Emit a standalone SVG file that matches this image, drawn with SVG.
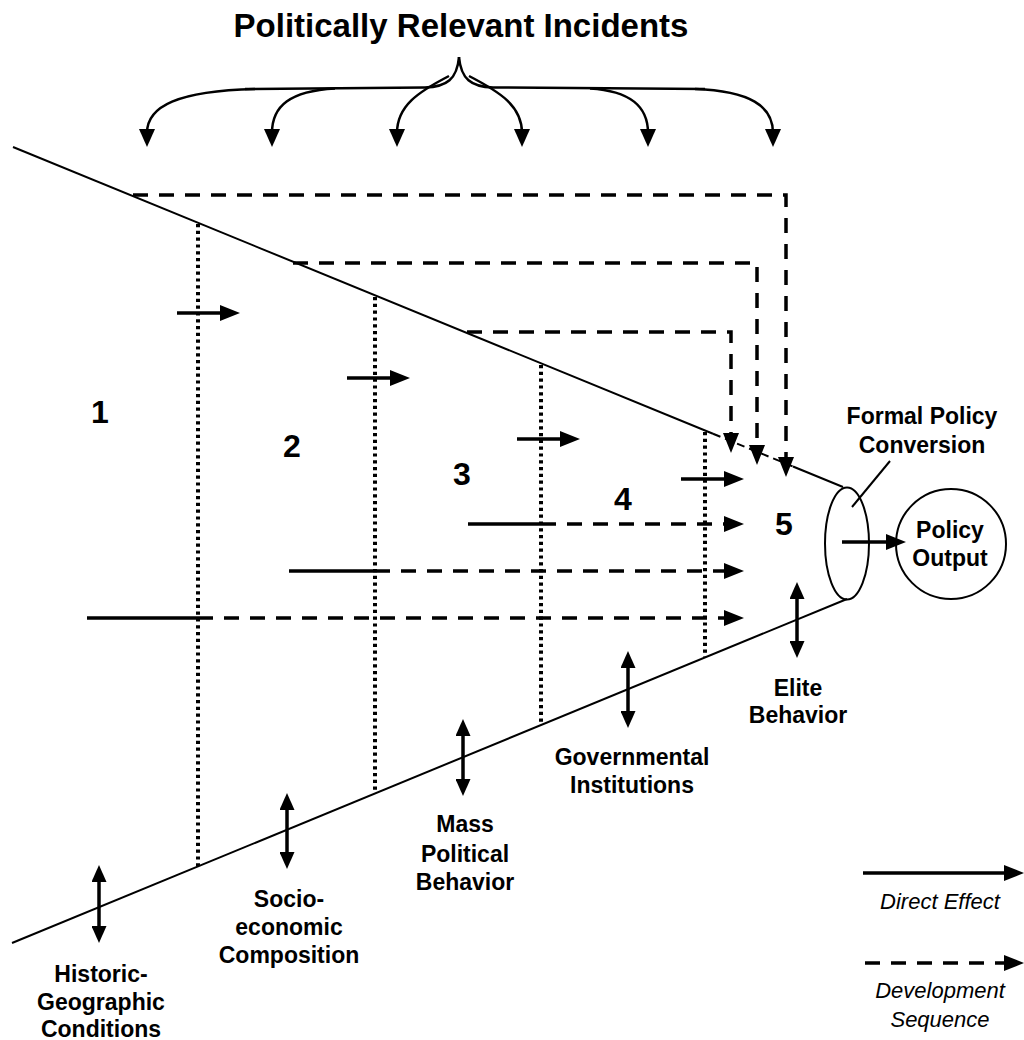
<svg xmlns="http://www.w3.org/2000/svg" width="1024" height="1040" viewBox="0 0 1024 1040">
<style>
text{font-family:"Liberation Sans",Arial,sans-serif;fill:#000;text-anchor:middle}
.t{font-weight:bold;font-size:23px}
.title{font-weight:bold;font-size:33px}
.num{font-weight:bold;font-size:32px}
.leg{font-style:italic;font-size:22px}
.fn{fill:none;stroke:#000;stroke-width:2}
.de{fill:none;stroke:#000;stroke-width:3.5;marker-end:url(#ah)}
.sl{fill:none;stroke:#000;stroke-width:3.5}
.ds{fill:none;stroke:#000;stroke-width:3.5;stroke-dasharray:15 11;marker-end:url(#ah)}
.dt{fill:none;stroke:#000;stroke-width:4;stroke-dasharray:3.2 3.6}
.br{fill:none;stroke:#000;stroke-width:2.5}
.bra{fill:none;stroke:#000;stroke-width:2.5;marker-end:url(#ahb)}
.dbl{fill:none;stroke:#000;stroke-width:3.5;marker-start:url(#ad);marker-end:url(#ad)}
</style>
<defs>
<marker id="ah" markerUnits="userSpaceOnUse" viewBox="0 0 20 16" markerWidth="20" markerHeight="16" refX="6" refY="8" orient="auto"><path d="M0,0 L20,8 L0,16 z" fill="#000"/></marker>
<marker id="ahb" markerUnits="userSpaceOnUse" viewBox="0 0 18 16" markerWidth="18" markerHeight="16" refX="4" refY="8" orient="auto"><path d="M0,0 L18,8 L0,16 z" fill="#000"/></marker>
<marker id="ad" markerUnits="userSpaceOnUse" viewBox="0 0 17 15" markerWidth="17" markerHeight="15" refX="4" refY="7.5" orient="auto-start-reverse"><path d="M0,0 L17,7.5 L0,15 z" fill="#000"/></marker>
</defs>
<rect width="1024" height="1040" fill="#fff"/>

<g id="title"><text class="title" x="461" y="37">Politically Relevant Incidents</text></g>

<g id="funnel">
<path class="fn" d="M13,147 L713,433.7"/>
<path class="fn" d="M713,433.7 L793,466.5" stroke-width="2.5" stroke-dasharray="8 5"/>
<path class="fn" d="M793,466.5 L843,487"/>
<path class="fn" d="M12,943 L847,599"/>
</g>

<g id="conversion">
<ellipse cx="847" cy="543.5" rx="22" ry="56" fill="none" stroke="#000" stroke-width="2"/>
<text class="t" x="922" y="424">Formal Policy</text>
<text class="t" x="922" y="453">Conversion</text>
</g>

<g id="output">
<circle cx="951" cy="544" r="55" fill="none" stroke="#000" stroke-width="2"/>
<text class="t" x="950" y="538">Policy</text>
<text class="t" x="950" y="566">Output</text>
</g>

<g id="stages">
<text class="num" x="100" y="423">1</text>
<text class="num" x="292" y="457">2</text>
<text class="num" x="462" y="485">3</text>
<text class="num" x="623" y="510">4</text>
<text class="num" x="784" y="535">5</text>
</g>

<g id="historic"><text class="t" x="101" y="982">Historic-</text><text class="t" x="101" y="1010">Geographic</text><text class="t" x="101" y="1037">Conditions</text></g>
<g id="socio"><text class="t" x="289" y="907">Socio-</text><text class="t" x="289" y="935">economic</text><text class="t" x="289" y="963">Composition</text></g>
<g id="mass"><text class="t" x="465" y="832">Mass</text><text class="t" x="465" y="862">Political</text><text class="t" x="465" y="890">Behavior</text></g>
<g id="gov"><text class="t" x="632" y="765">Governmental</text><text class="t" x="632" y="793">Institutions</text></g>
<g id="elite"><text class="t" x="798" y="696">Elite</text><text class="t" x="798" y="723">Behavior</text></g>

<g id="legend">
<path class="de" d="M863,873 H1010"/>
<text class="leg" x="940" y="909">Direct Effect</text>
<path class="ds" d="M865,963 H1010"/>
<text class="leg" x="940" y="998">Development</text>
<text class="leg" x="940" y="1027">Sequence</text>
</g>

<g id="connectors">
<!-- braces -->
<path class="br" d="M459,57 C457,79 447,87 425,87.5 L245,89"/>
<path class="bra" d="M255,89 C178,91 147,106 147,133"/>
<path class="bra" d="M335,88.5 C290,91 272,106 272,133"/>
<path class="bra" d="M449,76 C418,92 397,106 397,133"/>
<path class="br" d="M459,57 C461,79 471,87 493,87.5 L705,89"/>
<path class="bra" d="M695,89 C750,91 773,106 773,133"/>
<path class="bra" d="M590,88.5 C630,91 648,106 648,133"/>
<path class="bra" d="M469,76 C500,92 522,106 522,133"/>

<!-- dotted stage boundaries -->
<path class="dt" d="M198,224 V866"/>
<path class="dt" d="M375,297 V793"/>
<path class="dt" d="M541,365 V725"/>
<path class="dt" d="M705,432 V657"/>

<!-- direct effects -->
<path class="de" d="M177,313 H226"/>
<path class="de" d="M347,378 H396"/>
<path class="de" d="M517,439 H566"/>
<path class="de" d="M681,479 H730"/>

<!-- development sequences -->
<path class="sl" d="M468,524 H541"/>
<path class="ds" d="M541,524 H730"/>
<path class="sl" d="M289,571 H375"/>
<path class="ds" d="M375,571 H730"/>
<path class="sl" d="M87,618 H198"/>
<path class="ds" d="M198,618 H730"/>
<path class="ds" d="M133,195 H786 V463"/>
<path class="ds" d="M293,263 H757 V451"/>
<path class="ds" d="M467,332 H731 V439"/>

<!-- output arrow and leader -->
<path class="de" d="M842,542 H892"/>
<path class="fn" d="M890,461 L852,507"/>

<!-- double arrows -->
<path class="dbl" d="M99,878 V930"/>
<path class="dbl" d="M287,806 V856"/>
<path class="dbl" d="M463,732 V783"/>
<path class="dbl" d="M628,664 V715"/>
<path class="dbl" d="M797,595 V645"/>
</g>
</svg>
